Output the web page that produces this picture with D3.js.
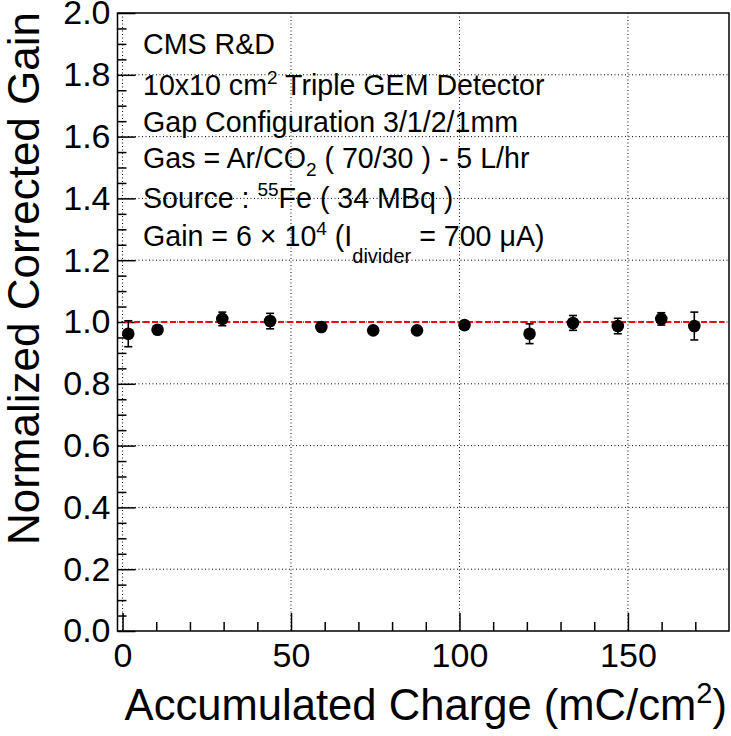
<!DOCTYPE html>
<html><head><meta charset="utf-8">
<script src="https://cdn.jsdelivr.net/npm/d3@7"></script>
<style>
body{margin:0;background:#fff}
text{font-family:"Liberation Sans",Arial,Helvetica,sans-serif;fill:#000}
</style>
</head><body>
<svg id="c" width="731" height="736"></svg>
<script>
// ---- data ----
const charge  = [1.7, 10.4, 29.6, 43.8, 59.0, 74.4, 87.4, 101.5, 120.8, 133.7, 147.0, 159.9, 169.7];
const gain    = [0.962, 0.975, 1.010, 1.003, 0.984, 0.973, 0.973, 0.990, 0.962, 0.997, 0.987, 1.010, 0.987];
const gainErr = [0.042, 0.012, 0.022, 0.025, 0.012, 0.012, 0.012, 0.012, 0.032, 0.024, 0.025, 0.020, 0.045];
const xTickValues = [0, 50, 100, 150];
const xTickLabels = ["0", "50", "100", "150"];
const xMinorValues = [10, 20, 30, 40, 60, 70, 80, 90, 110, 120, 130, 140, 160, 170];
const yTickValues = [0, 0.2, 0.4, 0.6, 0.8, 1.0, 1.2, 1.4, 1.6, 1.8, 2.0];
const yTickLabels = ["0.0", "0.2", "0.4", "0.6", "0.8", "1.0", "1.2", "1.4", "1.6", "1.8", "2.0"];
const yMinorValues = d3.range(0, 40).map(i => i * 0.05).filter((v, i) => i % 4 !== 0);
const fitLevel = 1.0;
const fitRange = [0.75, 178.7];
const xDomain = [-1.5, 180];
const yDomain = [0, 2];

// ---- layout ----
const L = 117.5, R = 729, T = 13, B = 631;
const svg = d3.select("#c");
const x = d3.scaleLinear().domain(xDomain).range([L, R]);
const y = d3.scaleLinear().domain(yDomain).range([B, T]);

// grid
const grid = svg.append("g").attr("stroke", "#000").attr("stroke-width", 1).attr("stroke-dasharray", "1,2.5");
grid.selectAll(".gx").data(xTickValues).join("line")
  .attr("x1", d => x(d)).attr("x2", d => x(d)).attr("y1", T).attr("y2", B);
grid.selectAll(".gy").data(yTickValues.filter(v => v > 0 && v < 2)).join("line")
  .attr("y1", d => y(d)).attr("y2", d => y(d)).attr("x1", L).attr("x2", R);

// axes
const FS = 34;
const gxMinor = svg.append("g").attr("transform", `translate(0,${B})`)
  .call(d3.axisBottom(x).tickValues(xMinorValues).tickSize(-9).tickFormat(""));
const gxMajor = svg.append("g").attr("transform", `translate(0,${B})`)
  .call(d3.axisBottom(x).tickValues(xTickValues).tickSize(-18).tickPadding(12)
    .tickFormat((d, i) => xTickLabels[i]));
const gyMinor = svg.append("g").attr("transform", `translate(${L},0)`)
  .call(d3.axisLeft(y).tickValues(yMinorValues).tickSize(-9).tickFormat(""));
const gyMajor = svg.append("g").attr("transform", `translate(${L},0)`)
  .call(d3.axisLeft(y).tickValues(yTickValues).tickSize(-18).tickPadding(7)
    .tickFormat((d, i) => yTickLabels[i]));
[gxMinor, gxMajor, gyMinor, gyMajor].forEach(g => {
  g.select(".domain").remove();
  g.selectAll("line").attr("stroke", "#000").attr("stroke-width", 1.5);
  g.selectAll("text").attr("font-size", FS).attr("font-family", '"Liberation Sans",Arial,sans-serif').attr("fill", "#000");
});

// frame
svg.append("rect").attr("x", L).attr("y", T).attr("width", R - L).attr("height", B - T)
  .attr("fill", "none").attr("stroke", "#000").attr("stroke-width", 1.5);

// fit line
svg.append("line")
  .attr("x1", x(fitRange[0])).attr("x2", x(fitRange[1]))
  .attr("y1", y(fitLevel)).attr("y2", y(fitLevel))
  .attr("stroke", "#ff0000").attr("stroke-width", 2).attr("stroke-dasharray", "6,3");

// error bars + markers
const pts = charge.map((c, i) => ({c, g: gain[i], e: gainErr[i]}));
const eb = svg.append("g").attr("stroke", "#000").attr("stroke-width", 1.6);
eb.selectAll(".v").data(pts).join("line")
  .attr("x1", d => x(d.c)).attr("x2", d => x(d.c))
  .attr("y1", d => y(d.g - d.e)).attr("y2", d => y(d.g + d.e));
eb.selectAll(".t").data(pts).join("line")
  .attr("x1", d => x(d.c) - 4).attr("x2", d => x(d.c) + 4)
  .attr("y1", d => y(d.g + d.e)).attr("y2", d => y(d.g + d.e));
eb.selectAll(".b").data(pts).join("line")
  .attr("x1", d => x(d.c) - 4).attr("x2", d => x(d.c) + 4)
  .attr("y1", d => y(d.g - d.e)).attr("y2", d => y(d.g - d.e));
svg.append("g").selectAll("circle").data(pts).join("circle")
  .attr("cx", d => x(d.c)).attr("cy", d => y(d.g)).attr("r", 6.3).attr("fill", "#000");

// axis titles
const xt = svg.append("text").attr("x", 727).attr("y", 720).attr("text-anchor", "end").attr("font-size", 43.6);
xt.append("tspan").text("Accumulated Charge (mC/cm");
xt.append("tspan").attr("font-size", 29).attr("dy", -17).text("2");
xt.append("tspan").attr("dy", 17).text(")");

svg.append("text").attr("transform", "translate(39,12) rotate(-90)")
  .attr("text-anchor", "end").attr("font-size", 44).text("Normalized Corrected Gain");

// annotation block
const TF = 28.6, TX = 143;
function line(yb) { return svg.append("text").attr("x", TX).attr("y", yb).attr("font-size", TF); }
line(54).text("CMS R&D");
let t = line(95);
t.append("tspan").text("10x10 cm");
t.append("tspan").attr("font-size", 19).attr("dy", -11).text("2");
t.append("tspan").attr("dy", 11).text(" Triple GEM Detector");
line(132).text("Gap Configuration 3/1/2/1mm");
t = line(168);
t.append("tspan").text("Gas = Ar/CO");
t.append("tspan").attr("font-size", 19).attr("dy", 8).text("2");
t.append("tspan").attr("dy", -8).text(" ( ");
t.append("tspan").text("70/30");
t.append("tspan").text(" ) ");
t.append("tspan").text("- 5 L/hr");
t = line(208);
t.append("tspan").text("Source : ");
t.append("tspan").attr("font-size", 19).attr("dy", -12).text("55");
t.append("tspan").attr("dy", 12).text("Fe ( 34 MBq )");
t = line(246);
t.append("tspan").text("Gain = 6 \u00d7 10");
t.append("tspan").attr("font-size", 19).attr("dy", -11).text("4");
t.append("tspan").attr("dy", 11).text(" (I");
t.append("tspan").attr("font-size", 20).attr("dy", 17).text("divider");
t.append("tspan").attr("dy", -17).text(" = 700 \u03bcA)");
</script>
</body></html>
